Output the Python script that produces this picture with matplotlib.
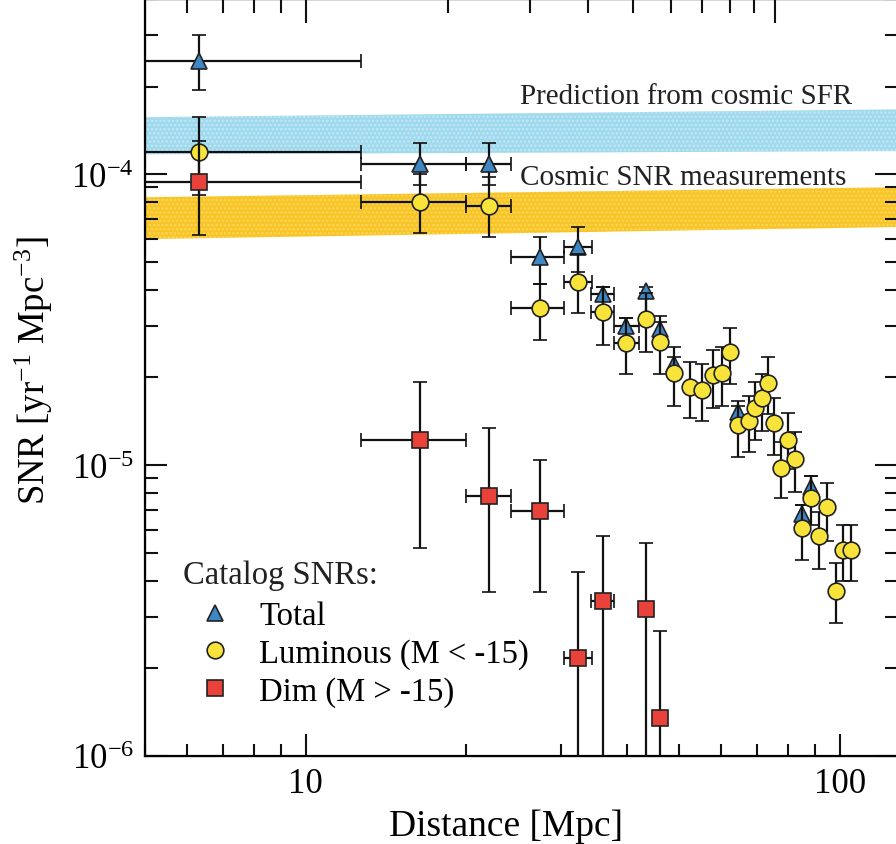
import numpy as np
import matplotlib
matplotlib.use('Agg')
import matplotlib.pyplot as plt
from matplotlib.lines import Line2D

plt.rcParams['font.family'] = 'Liberation Serif'
plt.rcParams['mathtext.fontset'] = 'custom'
plt.rcParams['mathtext.rm'] = 'Liberation Serif'
plt.rcParams['mathtext.it'] = 'Liberation Serif:italic'
plt.rcParams['axes.unicode_minus'] = False
plt.rcParams['hatch.linewidth'] = 1.2

# ---- data ----
# Total (triangles)
tot_x    = [6.3, 16.4, 22.0, 27.4, 32.4, 36.1, 39.8, 43.3, 46.0, 49.0, 64.4, 85.0, 88.4]
tot_xlo  = [3.1, 12.7, 20.0, 24.2, 30.4, 34.2, 37.8, 43.3, 46.0, 49.0, 64.4, 85.0, 88.4]
tot_xhi  = [12.7, 20.0, 24.2, 30.4, 34.4, 37.8, 42.0, 43.3, 46.0, 49.0, 64.4, 85.0, 88.4]
tot_y    = [2.45e-4, 1.08e-4, 1.08e-4, 5.2e-5, 5.6e-5, 3.87e-5, 3.0e-5, 3.96e-5, 2.93e-5, 2.22e-5, 1.52e-5, 6.8e-6, 8.4e-6]
tot_ylo  = [1.94e-4, 9.2e-5, 9.2e-5, 4.2e-5, 4.6e-5, 3.4e-5, 2.65e-5, 3.2e-5, 2.65e-5, 2.07e-5, 1.37e-5, 6.1e-6, 7.7e-6]
tot_yhi  = [3.0e-4, 1.28e-4, 1.28e-4, 6.1e-5, 6.6e-5, 4.1e-5, 3.2e-5, 4.1e-5, 3.1e-5, 2.35e-5, 1.6e-5, 7.3e-6, 9.2e-6]

# Luminous, M < -15 (circles)
lum_x    = [6.3, 16.4, 22.0, 27.4, 32.4, 36.1, 39.8, 43.3, 46.0, 49.0, 52.4, 55.1, 57.8, 60.1, 62.2,
            64.4, 67.6, 69.4, 71.5, 73.4, 75.3, 80.0, 82.5, 77.6, 88.4, 94.7, 85.0, 91.5, 101.5, 105.1, 98.5]
lum_xlo  = [3.1, 12.7, 20.0, 24.2, 30.4, 34.2, 37.8] + [None] * 24
lum_xhi  = [12.7, 20.0, 24.2, 30.4, 34.4, 37.8, 42.0] + [None] * 24
lum_y    = [1.19e-4, 8.0e-5, 7.76e-5, 3.46e-5, 4.25e-5, 3.36e-5, 2.63e-5, 3.18e-5, 2.65e-5, 2.07e-5, 1.85e-5,
            1.81e-5, 2.04e-5, 2.07e-5, 2.44e-5, 1.37e-5, 1.42e-5, 1.57e-5, 1.70e-5, 1.91e-5, 1.39e-5, 1.22e-5,
            1.05e-5, 9.8e-6, 7.7e-6, 7.2e-6, 6.1e-6, 5.7e-6, 5.1e-6, 5.1e-6, 3.7e-6]
lum_ylo  = [8.5e-5, 6.3e-5, 6.07e-5, 2.69e-5, 3.33e-5, 2.58e-5, 2.05e-5, 2.44e-5, 2.05e-5, 1.59e-5, 1.45e-5,
            1.42e-5, 1.57e-5, 1.59e-5, 1.90e-5, 1.07e-5, 1.11e-5, 1.22e-5, 1.31e-5, 1.5e-5, 1.08e-5, 9.7e-6,
            8.1e-6, 7.7e-6, 6.2e-6, 5.5e-6, 4.7e-6, 4.4e-6, 4.0e-6, 4.0e-6, 2.86e-6]
lum_yhi  = [1.57e-4, 1.0e-4, 9.8e-5, 4.2e-5, 5.3e-5, 4.1e-5, 3.2e-5, 3.9e-5, 3.25e-5, 2.54e-5, 2.26e-5,
            2.22e-5, 2.48e-5, 2.54e-5, 2.96e-5, 1.66e-5, 1.73e-5, 1.93e-5, 2.05e-5, 2.35e-5, 1.70e-5, 1.51e-5,
            1.30e-5, 1.2e-5, 9.2e-6, 8.7e-6, 7.3e-6, 6.9e-6, 6.2e-6, 6.2e-6, 4.6e-6]

# Dim, M > -15 (squares)
dim_x    = [6.3, 16.4, 22.0, 27.4, 32.4, 36.1, 43.3, 46.0]
dim_xlo  = [3.1, 12.7, 20.0, 24.2, 30.4, 34.2, 43.3, 46.0]
dim_xhi  = [12.7, 20.0, 24.2, 30.4, 34.4, 37.8, 43.3, 46.0]
dim_y    = [9.4e-5, 1.22e-5, 7.8e-6, 6.95e-6, 2.17e-6, 3.41e-6, 3.2e-6, 1.35e-6]
dim_ylo  = [6.17e-5, 5.2e-6, 3.66e-6, 3.66e-6, 5e-7, 5e-7, 5e-7, 5e-7]
dim_yhi  = [1.3e-4, 1.93e-5, 1.34e-5, 1.04e-5, 4.29e-6, 5.7e-6, 5.4e-6, 2.69e-6]

# cosmic bands (edges at the two ends of the x range)
band_x   = [5, 128]
sfr_lo   = [1.17e-4, 1.20e-4]
sfr_hi   = [1.57e-4, 1.67e-4]
snr_lo   = [5.98e-5, 6.58e-5]
snr_hi   = [8.33e-5, 9.02e-5]

# axis ticks
x_major = [10, 100]
x_labels = ['10', '100']
top_major = [10, 75.6]
top_minor = [6, 7, 8, 9, 18.5, 26.3, 33.8, 41.0, 48.4, 55.1, 62.2, 69.0]


def errs(v, lo, hi):
    v = np.array(v, float)
    lo = np.array([a if a is not None else b for a, b in zip(lo, v)], float)
    hi = np.array([a if a is not None else b for a, b in zip(hi, v)], float)
    return np.vstack([v - lo, hi - v])


fig = plt.figure(figsize=(8.96, 8.45), dpi=100)
ax = fig.add_axes([145/896, 88/845, 752/896, 757/845])
ax.set_xscale('log')
ax.set_yscale('log')

# dotted (halftone-like) bands
ax.fill_between(band_x, sfr_lo, sfr_hi, facecolor='#9fd9ee', edgecolor=(1, 1, 1, 0.35),
                hatch='....', lw=0, zorder=1)
ax.fill_between(band_x, snr_lo, snr_hi, facecolor='#f8c524', edgecolor=(1, 1, 1, 0.25),
                hatch='....', lw=0, zorder=1)

ebkw = dict(ecolor='#111111', elinewidth=1.6, capsize=5, capthick=1.6, ls='none', mec='#222222', mew=1.2)
ax.errorbar(tot_x, tot_y, xerr=errs(tot_x, tot_xlo, tot_xhi), yerr=errs(tot_y, tot_ylo, tot_yhi),
            fmt='^', ms=11, mfc='#3f86c4', zorder=3, **ebkw)
ax.errorbar(lum_x, lum_y, xerr=errs(lum_x, lum_xlo, lum_xhi), yerr=errs(lum_y, lum_ylo, lum_yhi),
            fmt='o', ms=12, mfc='#f7e33a', zorder=4, **ebkw)
ax.errorbar(dim_x, dim_y, xerr=errs(dim_x, dim_xlo, dim_xhi), yerr=errs(dim_y, dim_ylo, dim_yhi),
            fmt='s', ms=11, mfc='#e8423a', zorder=5, **ebkw)

ax.text(25.2, 1.85e-4, 'Prediction from cosmic SFR', fontsize=21, va='center', color='#222222', zorder=6)
ax.text(25.2, 9.77e-5, 'Cosmic SNR measurements', fontsize=21, va='center', color='#222222', zorder=6)

ax.set_xlim(5, 128)
ax.set_ylim(1e-6, 4e-4)
ax.set_xticks(x_major, x_labels)

for s in ax.spines.values():
    s.set_linewidth(1.6)
ax.tick_params(which='both', direction='in', width=1.5, labelsize=25, color='#111111')
ax.tick_params(which='major', length=16, pad=8)
ax.tick_params(which='minor', length=9)
ax.tick_params(which='both', right=True, top=False)

ax2 = ax.twiny()
ax2.set_xscale('log')
ax2.set_xlim(ax.get_xlim())
ax2.set_xticks(top_major)
ax2.set_xticks(top_minor, minor=True)
ax2.set_xticklabels([])
ax2.set_xticklabels([], minor=True)
ax2.tick_params(which='both', direction='in', width=1.5, color='#111111')
ax2.tick_params(which='major', length=17)
ax2.tick_params(which='minor', length=10)

ax.set_xlabel('Distance [Mpc]', fontsize=27, labelpad=6)
ax.xaxis.label.set_x(0.48)
ax.set_ylabel(r'SNR [yr$^{-1}$ Mpc$^{-3}$]', fontsize=26.5)
ax.yaxis.set_label_coords(-0.12, 0.51)

# legend: title as text, entries as legend
ax.text(0.05, 0.240, 'Catalog SNRs:', transform=ax.transAxes, fontsize=23.5, va='center', color='#222222')
handles = [Line2D([], [], ls='none', marker='^', ms=11, mfc='#3f86c4', mec='#222222', mew=1.2),
           Line2D([], [], ls='none', marker='o', ms=12, mfc='#f7e33a', mec='#222222', mew=1.2),
           Line2D([], [], ls='none', marker='s', ms=11, mfc='#e8423a', mec='#222222', mew=1.2)]
leg = ax.legend(handles, ['Total', 'Luminous (M < -15)', 'Dim (M > -15)'],
                loc='upper left', bbox_to_anchor=(0.05, 0.205), frameon=False, fontsize=23.5,
                handlelength=2.0, handletextpad=0.35, labelspacing=0.21, borderpad=0, borderaxespad=0)

fig.savefig('out.png', dpi=100)
